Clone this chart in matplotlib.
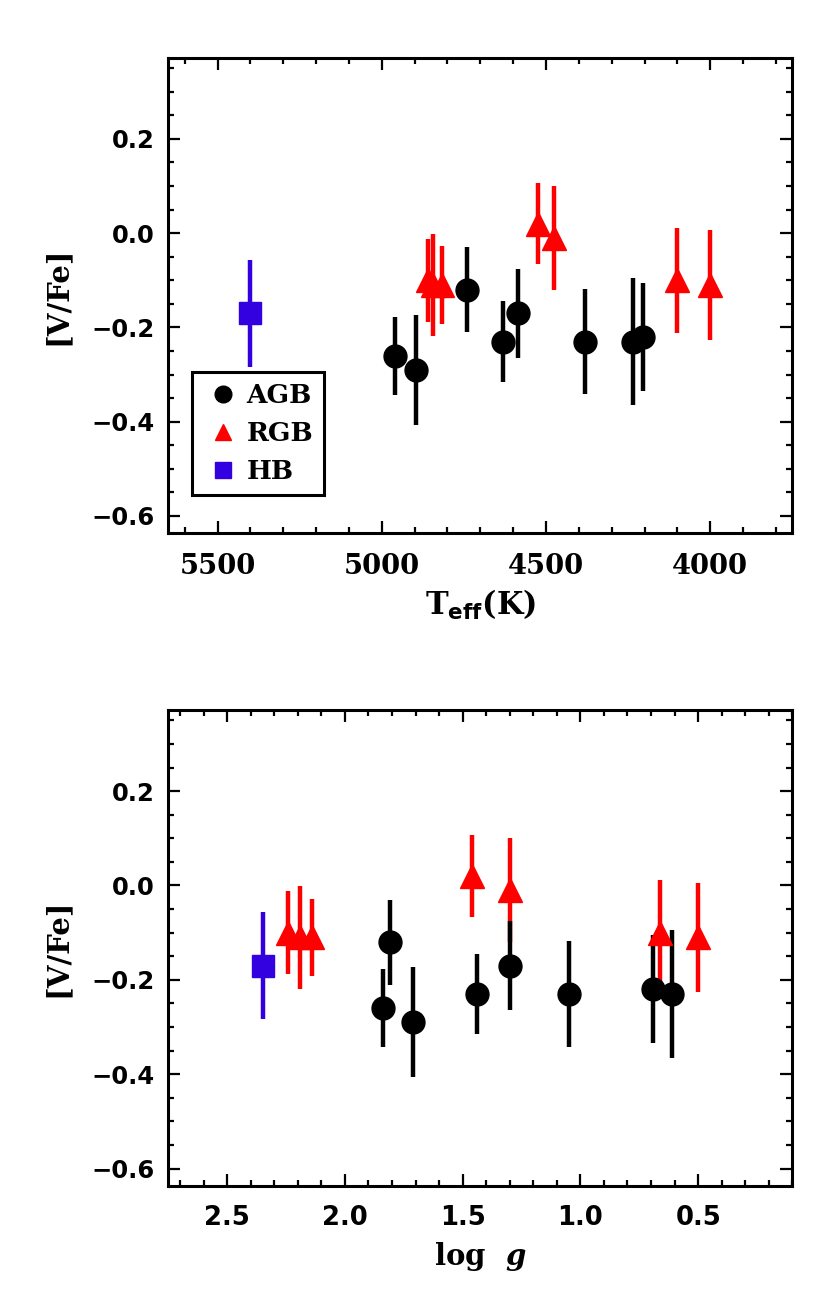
import matplotlib
matplotlib.use("Agg")
import matplotlib.pyplot as plt
from matplotlib.lines import Line2D
from matplotlib.ticker import MultipleLocator, FixedLocator

plt.rcParams['mathtext.fontset'] = 'custom'
plt.rcParams['mathtext.rm'] = 'DejaVu Serif:bold'
plt.rcParams['mathtext.it'] = 'DejaVu Serif:italic:bold'
plt.rcParams['mathtext.bf'] = 'DejaVu Sans:bold'

# ---- data ----
agb_teff = [4960, 4895, 4740, 4630, 4585, 4380, 4235, 4205]
agb_logg = [1.84, 1.71, 1.81, 1.44, 1.30, 1.05, 0.61, 0.69]
agb_vfe = [-0.26, -0.29, -0.12, -0.23, -0.17, -0.23, -0.23, -0.22]
agb_err = [0.083, 0.117, 0.090, 0.085, 0.094, 0.112, 0.135, 0.114]

rgb_teff = [4860, 4845, 4818, 4525, 4475, 4100, 4000]
rgb_logg = [2.24, 2.19, 2.14, 1.46, 1.30, 0.66, 0.50]
rgb_vfe = [-0.10, -0.11, -0.11, 0.02, -0.01, -0.10, -0.11]
rgb_err = [0.088, 0.109, 0.082, 0.086, 0.110, 0.112, 0.116]

hb_teff = [5400]
hb_logg = [2.35]
hb_vfe = [-0.17]
hb_err = [0.113]

teff_ticks = [5500, 5000, 4500, 4000]
logg_ticks = [2.5, 2.0, 1.5, 1.0, 0.5]
vfe_ticks = [0.2, 0.0, -0.2, -0.4, -0.6]

BLUE = '#3300e0'
RED = '#ff0000'

fig = plt.figure(figsize=(8.3, 13.05), dpi=100)
ax1 = fig.add_axes([0.2028, 0.5913, 0.7518, 0.3640])
ax2 = fig.add_axes([0.2028, 0.0912, 0.7518, 0.3644])


def style(ax, xfont, xsize):
    for s in ax.spines.values():
        s.set_linewidth(2.2)
    ax.tick_params(which='both', direction='in', top=True, right=True, width=1.6)
    ax.tick_params(which='major', length=8.4)
    ax.tick_params(which='minor', length=4.1)
    ax.tick_params(axis='x', which='major', pad=14)
    ax.tick_params(axis='y', which='major', pad=10)
    ax.set_ylim(-0.637, 0.371)
    ax.yaxis.set_major_locator(FixedLocator(vfe_ticks))
    ax.yaxis.set_minor_locator(MultipleLocator(0.05))
    ax.set_yticklabels([f"{v:.1f}".replace('-', '\u2212') for v in vfe_ticks],
                       fontfamily='DejaVu Sans', fontsize=17.5, fontweight='bold')
    for lab in ax.get_xticklabels():
        lab.set_fontfamily(xfont)
        lab.set_fontsize(xsize)
        lab.set_fontweight('bold')
    ax.set_ylabel('[V/Fe]', fontfamily='DejaVu Serif', fontsize=21, fontweight='bold')
    ax.yaxis.set_label_coords(-0.155, 0.5)


def draw(ax, xh, xr, xa):
    ax.errorbar(xh, hb_vfe, yerr=hb_err, fmt='s', color=BLUE, ms=16.5,
                elinewidth=3.2, capsize=0, mec=BLUE)
    ax.errorbar(xr, rgb_vfe, yerr=rgb_err, fmt='^', color=RED, ms=17,
                elinewidth=3.2, capsize=0, mec=RED)
    ax.errorbar(xa, agb_vfe, yerr=agb_err, fmt='o', color='k', ms=16.5,
                elinewidth=3.2, capsize=0, mec='k')


# top panel
draw(ax1, hb_teff, rgb_teff, agb_teff)
ax1.set_xlim(5650, 3750)
ax1.xaxis.set_major_locator(FixedLocator(teff_ticks))
ax1.xaxis.set_minor_locator(MultipleLocator(100))
ax1.set_xticklabels([str(t) for t in teff_ticks])
style(ax1, 'DejaVu Serif', 19.7)
ax1.set_xlabel(r'T$_{\mathbf{eff}}$(K)', fontfamily='DejaVu Serif', fontsize=22,
               fontweight='bold', labelpad=6)

handles = [
    Line2D([], [], marker='o', color='k', ls='none', ms=12),
    Line2D([], [], marker='^', color=RED, ls='none', ms=12),
    Line2D([], [], marker='s', color=BLUE, ls='none', ms=12),
]
leg = ax1.legend(handles, ['AGB', 'RGB', 'HB'], loc='lower left',
                 bbox_to_anchor=(0.0375, 0.0806), borderaxespad=0,
                 frameon=True, fancybox=False, edgecolor='k', framealpha=1,
                 prop={'family': 'DejaVu Serif', 'size': 19, 'weight': 'bold'},
                 handlelength=1.5, handletextpad=0.15, labelspacing=0.49,
                 borderpad=0.42)
leg.get_frame().set_linewidth(2.2)

# bottom panel
draw(ax2, hb_logg, rgb_logg, agb_logg)
ax2.set_xlim(2.75, 0.1)
ax2.xaxis.set_major_locator(FixedLocator(logg_ticks))
ax2.xaxis.set_minor_locator(MultipleLocator(0.1))
ax2.set_xticklabels([f"{v:.1f}" for v in logg_ticks])
style(ax2, 'DejaVu Sans', 18.6)
ax2.set_xlabel(r'log  $g$', fontfamily='DejaVu Serif', fontsize=21,
               fontweight='bold', labelpad=6)

fig.savefig('out.png', dpi=100)
